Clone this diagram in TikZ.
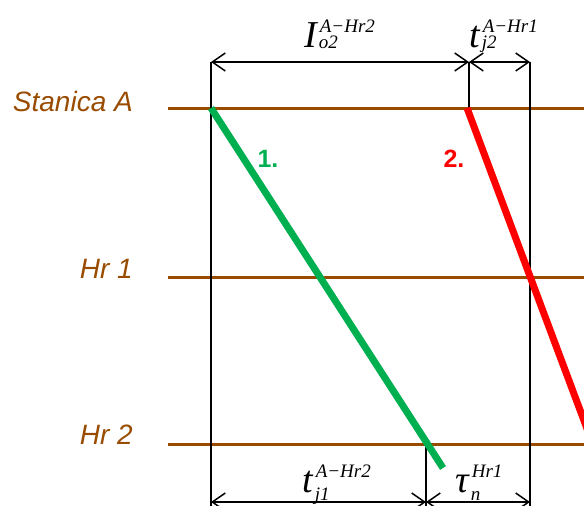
\documentclass[tikz,border=0pt]{standalone}
\usepackage{fontspec}
\setmainfont{Liberation Serif}
\newfontfamily\arialfont{Liberation Sans}
\usetikzlibrary{arrows.meta}

\definecolor{trackbrown}{RGB}{153,76,0}
\definecolor{trainone}{RGB}{0,176,80}
\definecolor{traintwo}{RGB}{255,0,0}

% main letter, raised superscript, subscript (raise given as option)
\newcommand{\dimlab}[4][0pt]{{\fontsize{38}{38}\selectfont\itshape #2}%
  \rlap{\kern3pt\raisebox{15pt}{\itshape #3}}\kern2pt\raisebox{#1}{\itshape #4}}

\tikzset{
  track/.style={trackbrown, line width=3pt},
  stanlabel/.style={text=trackbrown, font=\arialfont\itshape\fontsize{28}{28}\selectfont,
    anchor=base east, inner sep=0pt},
  helpline/.style={black, line width=1.5pt},
  dimarrow/.style={black, line width=1.5pt,
    {Straight Barb[length=13pt,width=18pt]}-{Straight Barb[length=13pt,width=18pt]}},
  train/.style={line width=7pt},
  trainno/.style={font=\arialfont\bfseries\fontsize{25}{25}\selectfont, inner sep=0pt},
  dimtext/.style={font=\fontsize{19}{19}\selectfont, anchor=base west, inner sep=0pt}
}

\begin{document}
\begin{tikzpicture}[x=1pt, y=-1pt]
  \useasboundingbox (0,0) rectangle (584,506);

  % stations
  \coordinate (A-l) at (168,108); \coordinate (A-r) at (584,108);
  \coordinate (H1-l) at (168,277); \coordinate (H1-r) at (584,277);
  \coordinate (H2-l) at (168,444); \coordinate (H2-r) at (584,444);
  \draw[track] (A-l) -- (A-r);
  \draw[track] (H1-l) -- (H1-r);
  \draw[track] (H2-l) -- (H2-r);
  \node[stanlabel] (SA) at (133,111) {Stanica A};
  \node[stanlabel] (SH1) at (133,278) {Hr 1};
  \node[stanlabel] (SH2) at (133,444) {Hr 2};

  % helper lines
  \coordinate (v1-t) at (211,62); \coordinate (v1-b) at (211,506);
  \coordinate (v2-t) at (469,62); \coordinate (v2-b) at (469,108);
  \coordinate (v3-t) at (530,62); \coordinate (v3-b) at (530,506);
  \coordinate (v4-t) at (426,444); \coordinate (v4-b) at (426,506);
  \draw[helpline] (v1-t) -- (v1-b);
  \draw[helpline] (v2-t) -- (v2-b);
  \draw[helpline] (v3-t) -- (v3-b);
  \draw[helpline] (v4-t) -- (v4-b);

  % dimensions
  \coordinate (d1) at (211,62); \coordinate (d2) at (469,62); \coordinate (d3) at (530,62);
  \coordinate (e1) at (211,502); \coordinate (e2) at (426,502); \coordinate (e3) at (530,502);
  \draw[dimarrow] (d1) -- (d2);
  \draw[dimarrow] (d2) -- (d3);
  \draw[dimarrow] (e1) -- (e2);
  \draw[dimarrow] (e2) -- (e3);
  \node[dimtext] (Io2) at (304,47) {\dimlab[-1pt]{I}{A−Hr2}{o2}};
  \node[dimtext] (tj2) at (469,47) {\dimlab[-1pt]{t}{A−Hr1}{j2}};
  \node[dimtext] (tj1) at (302,492) {\dimlab[-8pt]{t}{A−Hr2}{j1}};
  \node[dimtext] (taun) at (455,492) {\dimlab[-8pt]{τ}{Hr1}{n}};

  % trains
  \coordinate (g1) at (211,108); \coordinate (g2) at (443,468);
  \coordinate (r1) at (467,108); \coordinate (r2) at (592,442);
  \begin{scope}
    \clip (0,0) rectangle (584,506);
    \draw[train, trainone] (g1) -- (g2);
    \draw[train, traintwo] (r1) -- (r2);
  \end{scope}
  \node[trainno, text=trainone] (n1) at (268,159) {1.};
  \node[trainno, text=traintwo] (n2) at (454,159) {2.};
\end{tikzpicture}
\end{document}
